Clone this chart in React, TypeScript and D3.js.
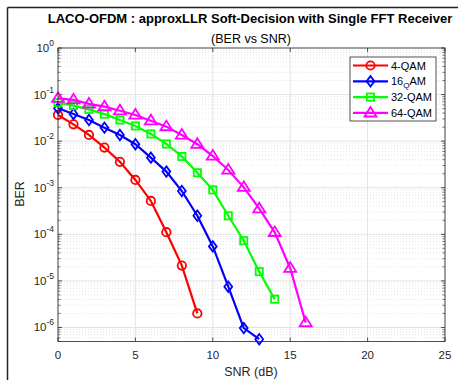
import React from "react";
import * as d3 from "d3";

const snr4 = [0, 1, 2, 3, 4, 5, 6, 7, 8, 9];
const ber4 = [0.0365, 0.023, 0.0136, 0.0073, 0.0036, 0.00147, 5.2e-4, 1.11e-4, 2.13e-5, 2.0e-6];
const snr16 = [0, 1, 2, 3, 4, 5, 6, 7, 8, 9, 10, 11, 12, 13];
const ber16 = [0.0507, 0.0384, 0.0285, 0.0195, 0.0136, 0.0086, 0.00443, 0.00222, 8.5e-4, 2.5e-4, 5.5e-5, 7.5e-6, 9.7e-7, 5.6e-7];
const snr32 = [0, 1, 2, 3, 4, 5, 6, 7, 8, 9, 10, 11, 12, 13, 14];
const ber32 = [0.067, 0.058, 0.048, 0.038, 0.0285, 0.0212, 0.0143, 0.0087, 0.0047, 0.0021, 9e-4, 2.5e-4, 7.3e-5, 1.58e-5, 4.05e-6];
const snr64 = [0, 1, 2, 3, 4, 5, 6, 7, 8, 9, 10, 11, 12, 13, 14, 15, 16];
const ber64 = [0.083, 0.077, 0.063, 0.055, 0.045, 0.0365, 0.0275, 0.0205, 0.0136, 0.0086, 0.0048, 0.0024, 0.00102, 3.55e-4, 1.1e-4, 1.87e-5, 1.27e-6];

const xTicks = [0, 5, 10, 15, 20, 25];
const yTickExps = [0, -1, -2, -3, -4, -5, -6];
const legendLabels = ["4-QAM", "16_QAM", "32-QAM", "64-QAM"];

const titleText = "LACO-OFDM : approxLLR Soft-Decision with Single FFT Receiver";
const subtitleText = "(BER vs SNR)";

const FONT = "'Liberation Sans', Arial, Helvetica, sans-serif";

type Series = { x: number[]; y: number[]; color: string; marker: string; label: string };

const series: Series[] = [
  { x: snr4, y: ber4, color: "#ff0000", marker: "circle", label: legendLabels[0] },
  { x: snr16, y: ber16, color: "#0000ff", marker: "diamond", label: legendLabels[1] },
  { x: snr32, y: ber32, color: "#00ff00", marker: "square", label: legendLabels[2] },
  { x: snr64, y: ber64, color: "#ff00ff", marker: "triangle", label: legendLabels[3] },
];

function Marker({ type, cx, cy, color }: { type: string; cx: number; cy: number; color: string }) {
  const sw = 1.8;
  if (type === "circle") return <circle cx={cx} cy={cy} r={4.2} fill="none" stroke={color} strokeWidth={sw} />;
  if (type === "diamond") {
    const r = 5.2;
    return <path d={`M${cx},${cy - r}L${cx + r * 0.75},${cy}L${cx},${cy + r}L${cx - r * 0.75},${cy}Z`} fill="none" stroke={color} strokeWidth={sw} />;
  }
  if (type === "square") {
    const s = 3.6;
    return <rect x={cx - s} y={cy - s} width={2 * s} height={2 * s} fill="none" stroke={color} strokeWidth={sw} />;
  }
  const r = 6;
  return <path d={`M${cx},${cy - r}L${cx + r},${cy + r * 0.6}L${cx - r},${cy + r * 0.6}Z`} fill="none" stroke={color} strokeWidth={sw} />;
}

export default function App() {
  const W = 458, H = 380;
  const L = 58, R = 445, T = 48, B = 341.5;
  const x = d3.scaleLinear().domain([0, 25]).range([L, R]);
  const y = d3.scaleLog().domain([5e-7, 1]).range([B, T]);

  const minorY: number[] = [];
  for (let e = -7; e < 0; e++) {
    for (let k = 2; k <= 9; k++) {
      const v = k * Math.pow(10, e);
      if (v >= 5e-7 && v <= 1) minorY.push(v);
    }
  }
  const line = d3.line<[number, number]>().x((d) => x(d[0])).y((d) => y(d[1]));
  const axisColor = "#262626";
  const gridColor = "#e3e3e3";

  return (
    <svg width={W} height={H} style={{ position: "absolute", left: 0, top: 0, background: "#fff" }} fontFamily={FONT}>
      <rect x={0} y={0} width={W} height={H} fill="#fff" />
      {/* frame */}
      <line x1={7.5} y1={7.5} x2={W} y2={7.5} stroke="#222" strokeWidth={1.5} />
      <line x1={7.5} y1={7.5} x2={7.5} y2={H} stroke="#222" strokeWidth={1.5} />

      {/* minor grid */}
      {minorY.map((v, i) => (
        <line key={"mg" + i} x1={L} x2={R} y1={y(v)} y2={y(v)} stroke="#d8d8d8" strokeWidth={0.7} strokeDasharray="1,2" />
      ))}
      {/* major grid */}
      {yTickExps.map((e) => (
        <line key={"gy" + e} x1={L} x2={R} y1={y(Math.pow(10, e))} y2={y(Math.pow(10, e))} stroke={gridColor} strokeWidth={1} />
      ))}
      {xTicks.map((t) => (
        <line key={"gx" + t} x1={x(t)} x2={x(t)} y1={T} y2={B} stroke={gridColor} strokeWidth={1} />
      ))}

      {/* ticks */}
      {xTicks.map((t) => (
        <g key={"tx" + t}>
          <line x1={x(t)} x2={x(t)} y1={B} y2={B - 4} stroke={axisColor} strokeWidth={0.8} />
          <line x1={x(t)} x2={x(t)} y1={T} y2={T + 4} stroke={axisColor} strokeWidth={0.8} />
          <text x={x(t)} y={359} textAnchor="middle" fontSize={11.5} fill={axisColor}>{t}</text>
        </g>
      ))}
      {minorY.map((v, i) => (
        <g key={"mt" + i}>
          <line x1={L} x2={L + 2.5} y1={y(v)} y2={y(v)} stroke={axisColor} strokeWidth={0.6} />
          <line x1={R} x2={R - 2.5} y1={y(v)} y2={y(v)} stroke={axisColor} strokeWidth={0.6} />
        </g>
      ))}
      {yTickExps.map((e) => {
        const yy = y(Math.pow(10, e));
        return (
          <g key={"ty" + e}>
            <line x1={L} x2={L + 4} y1={yy} y2={yy} stroke={axisColor} strokeWidth={0.8} />
            <line x1={R} x2={R - 4} y1={yy} y2={yy} stroke={axisColor} strokeWidth={0.8} />
            <text x={L - 4} y={yy + 4} textAnchor="end" fontSize={11.5} fill={axisColor}>
              10<tspan dy={-6} fontSize={8.5}>{e}</tspan>
            </text>
          </g>
        );
      })}

      {/* series */}
      {series.map((s) => {
        const pts = s.x.map((v, i) => [v, s.y[i]] as [number, number]);
        return (
          <g key={s.label}>
            <path d={line(pts) || ""} fill="none" stroke={s.color} strokeWidth={2.2} />
            {pts.map((p, i) => (
              <Marker key={i} type={s.marker} cx={x(p[0])} cy={y(p[1])} color={s.color} />
            ))}
          </g>
        );
      })}

      {/* axes box */}
      <rect x={L} y={T} width={R - L} height={B - T} fill="none" stroke={axisColor} strokeWidth={0.8} />

      {/* labels */}
      <text x={251} y={376} textAnchor="middle" fontSize={12.5} fill={axisColor}>SNR (dB)</text>
      <text transform="translate(24,194) rotate(-90)" textAnchor="middle" fontSize={12.5} fill={axisColor}>BER</text>
      <text x={250} y={23} textAnchor="middle" fontSize={13} fontWeight="bold" fill="#000">{titleText}</text>
      <text x={251} y={43} textAnchor="middle" fontSize={12.5} fill="#000">{subtitleText}</text>

      {/* legend */}
      <rect x={350} y={57} width={86} height={64} fill="#fff" stroke={axisColor} strokeWidth={0.8} />
      {series.map((s, i) => {
        const ly = 65.5 + i * 15.8;
        const parts = s.label.split("_");
        return (
          <g key={"lg" + i}>
            <line x1={353} x2={388} y1={ly} y2={ly} stroke={s.color} strokeWidth={2.2} />
            <Marker type={s.marker} cx={370.5} cy={ly} color={s.color} />
            <text x={391} y={ly + 4} fontSize={11} fill="#000">
              {parts.length > 1 ? (
                <>
                  {parts[0].slice(0, 2)}
                  <tspan dy={3} fontSize={8}>{parts[1][0]}</tspan>
                  <tspan dy={-3}>{parts[1].slice(1)}</tspan>
                </>
              ) : (
                s.label
              )}
            </text>
          </g>
        );
      })}
    </svg>
  );
}
